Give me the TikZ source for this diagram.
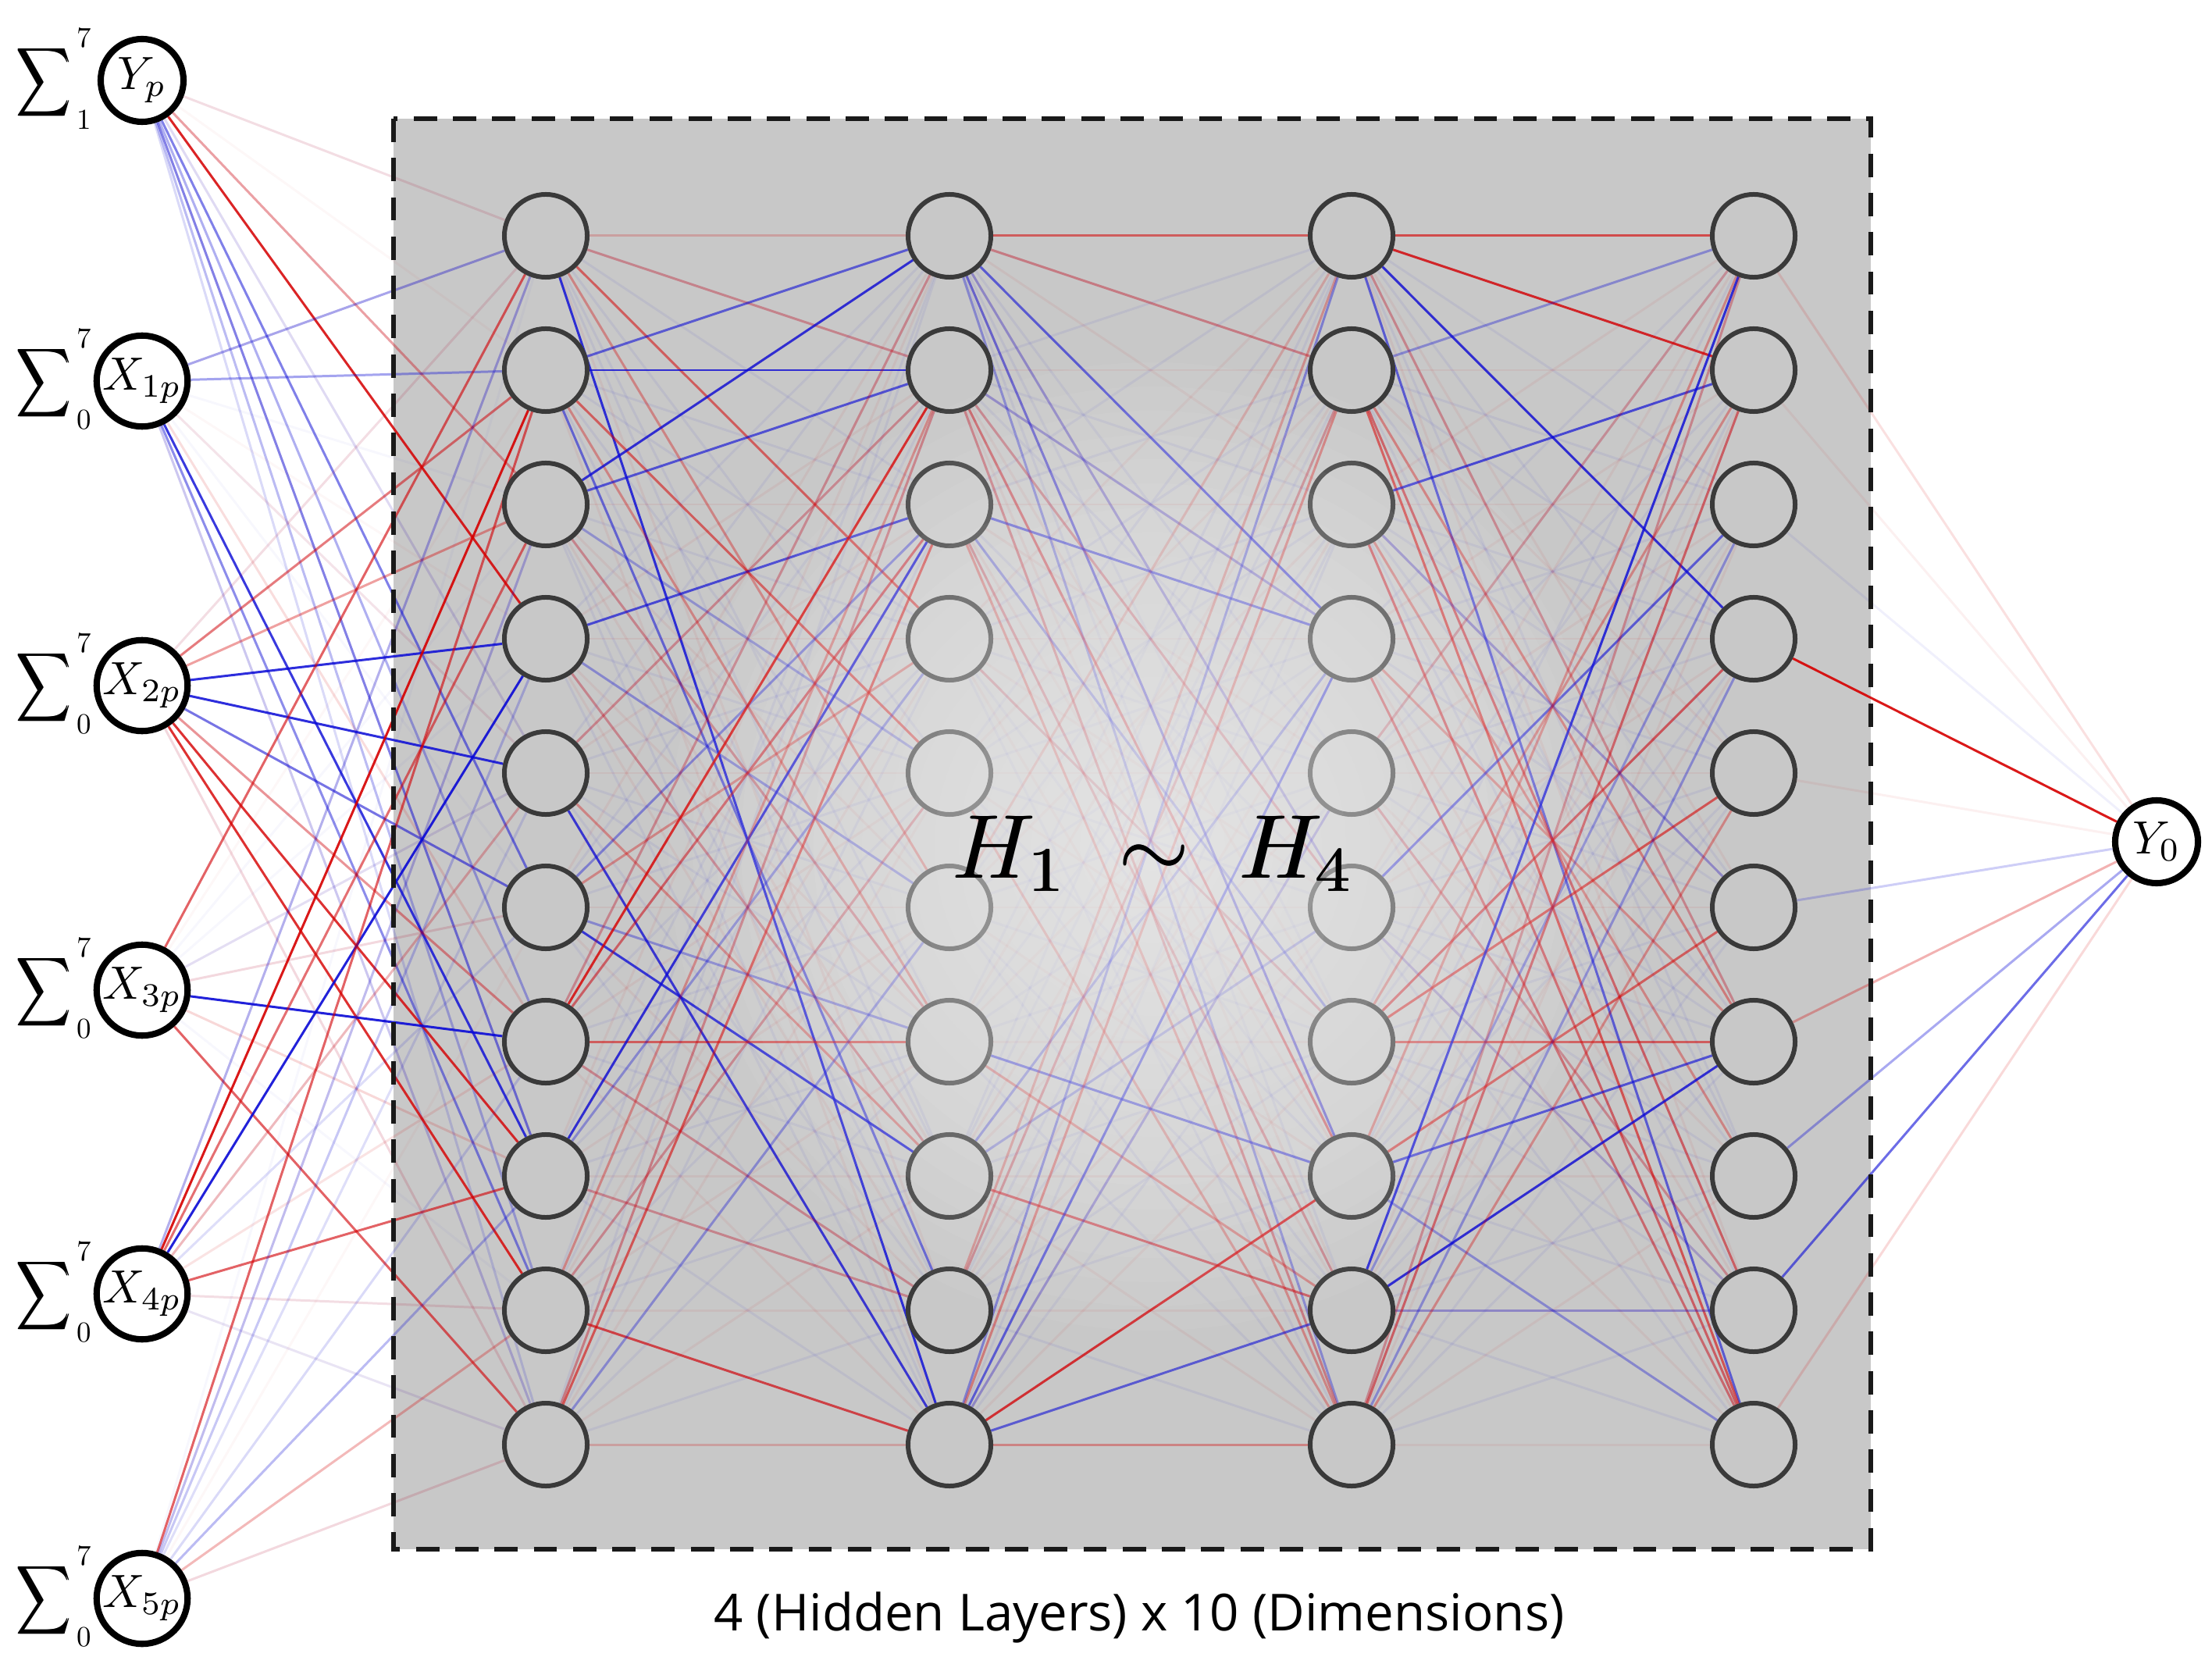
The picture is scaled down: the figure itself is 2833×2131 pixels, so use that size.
\documentclass[tikz,border=0pt]{standalone}
\usepackage{fontspec}
\usepackage{graphicx}
\newfontfamily\capfont{Open Sans}
\definecolor{ER}{RGB}{215,0,0}
\definecolor{EB}{RGB}{10,10,215}
\definecolor{boxgray}{RGB}{200,200,200}
\definecolor{ringgray}{RGB}{58,58,58}
\newcommand\mlab[1]{\scalebox{1.7}{$#1$}}
\newcommand\sigmaglyph{\rlap{$\displaystyle\sum$}\kern0.45pt$\displaystyle\sum$}
\newcommand\htxt{$H_1\;\sim\;H_4$}
\pgfdeclarelayer{boxl}\pgfdeclarelayer{edgel}\pgfdeclarelayer{glowl}\pgfdeclarelayer{textl}
\pgfsetlayers{boxl,edgel,main,glowl,textl}
\begin{document}
\begin{tikzpicture}[x=0.01cm,y=-0.01cm,
  inode/.style={circle,draw=black,line width=2.3pt,fill=white,minimum size=1.06cm,inner sep=0pt},
  hnode/.style={circle,draw=ringgray,line width=1.7pt,fill=boxgray,minimum size=1.06cm,inner sep=0pt},
  sigmark/.style={inner sep=0pt},
  limmark/.style={inner sep=0pt,font=\fontsize{10.5}{10.5}\selectfont},
  edge/.style={line width=0.85pt},
  boxborder/.style={draw=black!90,line width=1.8pt,dash pattern=on 8.5pt off 5.8pt},
]
\useasboundingbox (0,0) rectangle (2833,2131);
\begin{pgfonlayer}{boxl}
\fill[white] (0,0) rectangle (2833,2131);
\fill[boxgray] (504,152) rectangle (2396,1984);
\end{pgfonlayer}

% input nodes
\node[inode] (i1) at (182,103) {\mlab{Y_p}};
\node[inode] (i2) at (182,488) {\mlab{X_{1p}}};
\node[inode] (i3) at (182,878) {\mlab{X_{2p}}};
\node[inode] (i4) at (182,1268) {\mlab{X_{3p}}};
\node[inode] (i5) at (182,1657) {\mlab{X_{4p}}};
\node[inode] (i6) at (182,2047) {\mlab{X_{5p}}};

% sigma labels
\foreach \n/\yy/\lo in {1/103/1,2/488/0,3/878/0,4/1268/0,5/1657/0,6/2047/0}{
  \node[sigmark] (s\n) at (56,\yy+3) {\scalebox{1.36}[1.75]{\sigmaglyph}};
  \node[limmark] (p\n) at (108,\yy-55) {7};
  \node[limmark] (q\n) at (108,\yy+50) {\lo};
}

% hidden nodes
\foreach \col/\xx in {a/699,b/1216,c/1731,d/2246}{
  \foreach \k in {1,...,10}{
    \node[hnode] (\col\k) at (\xx,{302+172*(\k-1)}) {};
  }
}
% output node
\node[inode] (o) at (2762,1078) {\mlab{Y_0}};

\begin{pgfonlayer}{edgel}
% faint background connections
\foreach \i in {1,...,10}{\foreach \j in {1,...,10}{
  \pgfmathtruncatemacro{\m}{mod(3*\i+7*\j,5)}
  \ifnum\m<2 \def\fc{ER}\else\def\fc{EB}\fi
  \draw[edge,draw=\fc,draw opacity=0.06] (a\i) -- (b\j);
  \draw[edge,draw=\fc,draw opacity=0.06] (b\j) -- (c\i);
  \draw[edge,draw=\fc,draw opacity=0.06] (c\i) -- (d\j);
}}
\foreach \i in {1,...,6}{\foreach \j in {1,...,10}{
  \pgfmathtruncatemacro{\m}{mod(2*\i+5*\j,3)}
  \ifnum\m<1 \def\fc{ER}\else\def\fc{EB}\fi
  \draw[edge,draw=\fc,draw opacity=0.03] (i\i) -- (a\j);
}}
% input -> H1
\foreach \ea/\eb/\ec/\eo in {
 i1/a4/ER/.85, i1/a3/ER/.35, i1/a1/ER/.1, i1/a5/EB/.12, i1/a6/EB/.5, i1/a7/EB/.3, i1/a8/EB/.5, i1/a9/EB/.25, i1/a10/EB/.12,
 i2/a1/EB/.35, i2/a2/EB/.35, i2/a8/EB/.8, i2/a9/EB/.45, i2/a10/EB/.2, i2/a7/ER/.1, i2/a5/ER/.08,
 i3/a1/ER/.1, i3/a2/ER/.5, i3/a3/ER/.35, i3/a4/EB/.85, i3/a5/EB/.85, i3/a6/EB/.55, i3/a7/ER/.4, i3/a8/ER/.8, i3/a9/ER/.8, i3/a10/ER/.12,
 i4/a1/ER/.6, i4/a5/EB/.1, i4/a6/ER/.12, i4/a7/EB/.9, i4/a8/ER/.12, i4/a10/ER/.6,
 i5/a1/EB/.3, i5/a2/ER/.9, i5/a3/ER/.55, i5/a4/EB/.9, i5/a5/ER/.25, i5/a6/EB/.1, i5/a8/ER/.6, i5/a9/ER/.1, i5/a7/ER/.08, i5/a10/EB/.08,
 i6/a2/ER/.6, i6/a3/EB/.25, i6/a4/EB/.2, i6/a5/EB/.1, i6/a7/EB/.12, i6/a8/EB/.25, i6/a9/ER/.25, i6/a10/ER/.12}
 {\draw[edge,draw=\ec,draw opacity=\eo] (\ea) -- (\eb);}
% H1 -> H2
\foreach \ea/\eb/\ec/\eo in {
 a1/b1/ER/.15, a1/b2/ER/.3, a1/b4/ER/.5, a1/b6/ER/.3, a1/b10/EB/.8,
 a2/b1/EB/.55, a2/b2/EB/.8, a2/b5/ER/.5, a2/b7/ER/.3, a2/b9/EB/.5,
 a3/b1/EB/.8, a3/b2/EB/.6, a3/b7/ER/.3, a3/b5/EB/.25,
 a4/b3/EB/.65, a4/b6/EB/.3, a4/b8/ER/.3,
 a5/b10/EB/.75, a5/b2/ER/.3, a5/b8/ER/.3,
 a6/b8/EB/.75, a6/b3/EB/.35, a6/b7/EB/.3, a6/b4/ER/.3,
 a7/b2/ER/.8, a7/b3/ER/.5, a7/b7/ER/.5, a7/b1/ER/.3, a7/b9/ER/.3,
 a8/b3/EB/.8, a8/b4/EB/.3, a8/b9/ER/.3,
 a9/b10/ER/.65, a9/b2/ER/.3, a9/b5/ER/.3,
 a10/b3/ER/.55, a10/b2/ER/.35, a10/b10/ER/.15, a10/b6/EB/.3}
 {\draw[edge,draw=\ec,draw opacity=\eo] (\ea) -- (\eb);}
% H2 -> H3
\foreach \ea/\eb/\ec/\eo in {
 b1/c1/ER/.5, b1/c2/ER/.35, b1/c4/EB/.55, b1/c6/EB/.3, b1/c8/EB/.5, b1/c10/EB/.3,
 b2/c4/EB/.3, b2/c8/ER/.45, b2/c10/ER/.35, b2/c6/ER/.3,
 b3/c4/EB/.5, b3/c7/EB/.3, b3/c9/ER/.3, b3/c10/ER/.3,
 b4/c7/ER/.25, b5/c10/ER/.25, b6/c1/ER/.15,
 b7/c8/EB/.5, b7/c9/ER/.3,
 b8/c9/ER/.5, b8/c4/EB/.3, b8/c6/EB/.25,
 b9/c2/ER/.3, b9/c1/ER/.25,
 b10/c1/EB/.35, b10/c2/ER/.35, b10/c4/EB/.55, b10/c5/EB/.3, b10/c8/ER/.75, b10/c9/EB/.55, b10/c10/ER/.3}
 {\draw[edge,draw=\ec,draw opacity=\eo] (\ea) -- (\eb);}
% H3 -> H4
\foreach \ea/\eb/\ec/\eo in {
 c1/d1/ER/.6, c1/d2/ER/.8, c1/d4/EB/.8, c1/d10/EB/.55, c1/d7/ER/.3,
 c2/d10/ER/.55, c2/d9/ER/.5, c2/d7/ER/.35, c2/d1/EB/.3,
 c3/d2/EB/.65, c3/d10/ER/.5, c3/d8/ER/.3, c3/d6/EB/.3,
 c4/d10/ER/.45, c4/d7/ER/.3,
 c5/d1/ER/.25, c5/d9/ER/.3,
 c6/d3/EB/.55, c6/d9/EB/.2,
 c7/d4/ER/.55, c7/d5/ER/.55, c7/d7/ER/.5, c7/d2/ER/.3,
 c8/d7/EB/.6, c8/d6/ER/.5, c8/d1/ER/.3, c8/d10/EB/.3,
 c9/d1/EB/.8, c9/d7/EB/.8, c9/d9/EB/.3, c9/d3/EB/.3,
 c10/d2/ER/.5, c10/d1/ER/.3, c10/d4/EB/.3, c10/d5/ER/.3}
 {\draw[edge,draw=\ec,draw opacity=\eo] (\ea) -- (\eb);}
% H4 -> output
\foreach \ea/\ec/\eo in {d1/ER/.12, d2/ER/.06, d3/EB/.06, d4/ER/.9, d5/ER/.06, d6/EB/.2, d7/ER/.3, d8/EB/.35, d9/EB/.6, d10/ER/.15}
 {\draw[edge,draw=\ec,draw opacity=\eo] (\ea) -- (o);}
\end{pgfonlayer}

% central glow
\begin{pgfonlayer}{glowl}
\foreach \r in {31,62,...,620} \fill[white,fill opacity=0.048] (1476,1084) circle (\r);
\draw[boxborder] (504,152) rectangle (2396,1984);
\end{pgfonlayer}

\begin{pgfonlayer}{textl}
\node[anchor=base,inner sep=0pt] (htext) at (1478,1124) {\scalebox{3.3}{\rlap{\htxt}\kern0.12pt\htxt}};
\node[anchor=base,inner sep=0pt] (cap) at (1459,2088) {\capfont\fontsize{18.6}{18.6}\selectfont 4 (Hidden Layers) x 10 (Dimensions)};
\end{pgfonlayer}
\end{tikzpicture}
\end{document}
